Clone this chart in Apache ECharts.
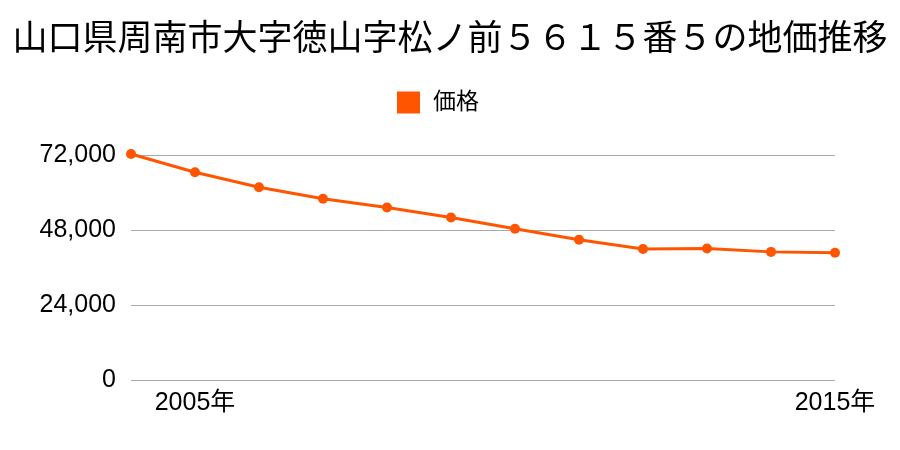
<!DOCTYPE html>
<html><head><meta charset="utf-8">
<script src="https://cdn.jsdelivr.net/npm/echarts@6/dist/echarts.min.js"></script>
<style>html,body{margin:0;padding:0;background:#fff}#c{width:900px;height:450px}</style>
</head><body><div id="c"></div>
<script>
const years = ['2004','2005','2006','2007','2008','2009','2010','2011','2012','2013','2014','2015'];
const prices = [72300, 66500, 61700, 58000, 55200, 52000, 48400, 44900, 41900, 42100, 41000, 40700];
const yTicks = [0, 24000, 48000, 72000];
const seriesName = '価格';
const titleText = '山口県周南市大字徳山字松ノ前５６１５番５の地価推移';

const chart = echarts.init(document.getElementById('c'));
const font = '"Liberation Sans", "Noto Sans CJK JP", sans-serif';
chart.setOption({
  animation: false,
  title: { text: titleText, left: 'center', top: 18, textStyle: { fontFamily: font, fontSize: 35, fontWeight: 'normal', color: '#000' } },
  legend: { data: [seriesName], top: 86, left: 392, itemWidth: 23, itemHeight: 22, icon: 'rect',
    textStyle: { fontFamily: font, fontSize: 23, color: '#000', padding: [0, 0, 0, 8] } },
  grid: { left: 131, right: 65, top: 155, bottom: 70 },
  xAxis: { type: 'category', data: years, boundaryGap: false,
    axisLine: { show: false }, axisTick: { show: false },
    axisLabel: { interval: (i) => i === 1 || i === 11, formatter: v => v + '年', fontFamily: font, fontSize: 25, color: '#000', margin: 11 } },
  yAxis: { type: 'value', min: yTicks[0], max: yTicks[yTicks.length - 1], interval: yTicks[1] - yTicks[0],
    axisLine: { show: false }, axisTick: { show: false },
    axisLabel: { fontFamily: font, fontSize: 25, color: '#000', margin: 15, formatter: v => v.toLocaleString('en-US') },
    splitLine: { lineStyle: { color: '#aaa', width: 1 } } },
  series: [{ name: seriesName, type: 'line', data: prices, symbol: 'circle', symbolSize: 10, clip: false,
    itemStyle: { color: '#ff5500' }, lineStyle: { color: '#ff5500', width: 3 } }]
});
</script></body></html>
